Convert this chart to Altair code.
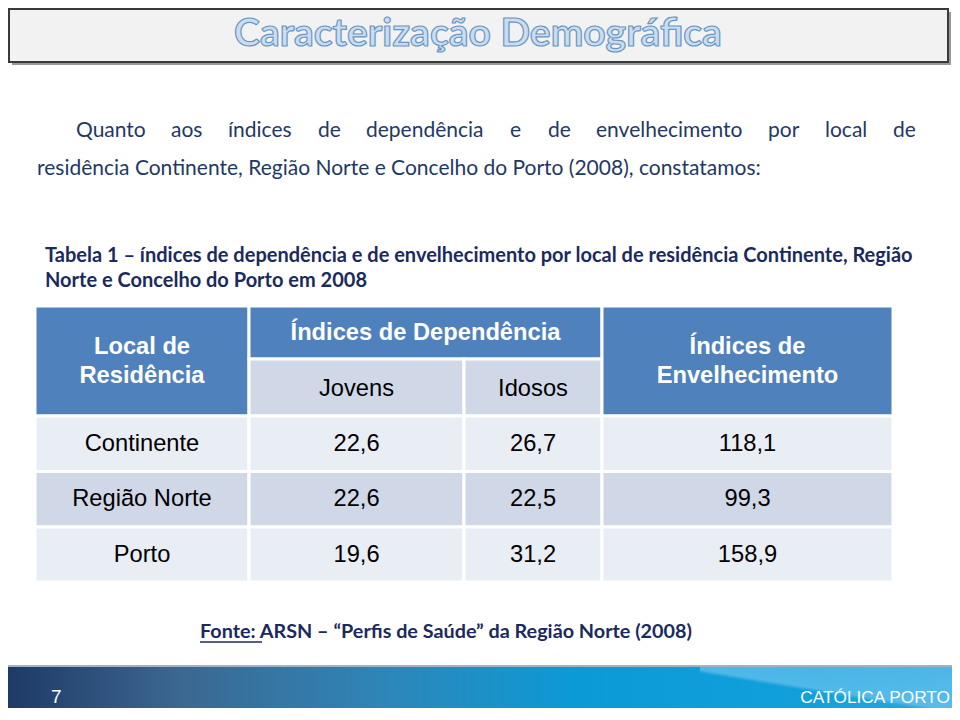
import altair as alt
import pandas as pd

# ---- table values ----
locais = ["Continente", "Região Norte", "Porto"]
jovens = [22.6, 22.6, 19.6]
idosos = [26.7, 22.5, 31.2]
envelhecimento = [118.1, 99.3, 158.9]

titulo = "Caracterização Demográfica"
paragrafo_l1 = ["Quanto", "aos", "índices", "de", "dependência", "e", "de",
                "envelhecimento", "por", "local", "de"]
paragrafo_l2 = "residência Continente, Região Norte e Concelho do Porto (2008), constatamos:"
legenda_l1 = "Tabela 1 – índices de dependência e de envelhecimento por local de residência Continente, Região"
legenda_l2 = "Norte e Concelho do Porto em 2008"
fonte_a = "Fonte: "
fonte_b = "ARSN – “Perfis de Saúde” da Região Norte (2008)"
pagina = "7"
marca = "CATÓLICA PORTO"

# ---- layout (page pixel coordinates) ----
W, H = 944, 700
X0, Y0 = 8, 8
XS = alt.Scale(domain=[X0, X0 + W], nice=False, zero=False)
YS = alt.Scale(domain=[Y0, Y0 + H], nice=False, zero=False, reverse=True)

word_x = [76, 171, 228, 318, 366, 510, 548, 596, 768, 825, 893]
col_edges = [35, 249, 464, 602, 893]
head_edges = [306, 359, 416]
row_edges = [416, 471.5, 527, 582]

BLUE = "#4F81BD"
LIGHT1 = "#E9EDF4"
LIGHT2 = "#D0D8E8"
NAVY = "#1F3864"
NAVY2 = "#1B2A5E"


def enc_rect():
    return dict(
        x=alt.X("x:Q", scale=XS, axis=None),
        x2="x2:Q",
        y=alt.Y("y:Q", scale=YS, axis=None),
        y2="y2:Q",
    )


def enc_pt():
    return dict(
        x=alt.X("x:Q", scale=XS, axis=None),
        y=alt.Y("y:Q", scale=YS, axis=None),
        text="t:N",
    )


fmt = lambda v: f"{v:.1f}".replace(".", ",")

# title box
box = pd.DataFrame({"x": [X0 + 1], "x2": [X0 + W - 4], "y": [Y0 + 1], "y2": [62]})
shadow = pd.DataFrame({"x": [X0 + 4], "x2": [X0 + W - 1], "y": [Y0 + 4], "y2": [65]})
shadow_l = alt.Chart(shadow).mark_rect(color="#7F7F7F", opacity=0.8).encode(**enc_rect())
box_l = alt.Chart(box).mark_rect(color="#F2F2F2", stroke="#3A3A3A", strokeWidth=2).encode(**enc_rect())
title_l = alt.Chart(pd.DataFrame({"x": [478], "y": [34], "t": [titulo]})).mark_text(
    font="Lato", fontWeight="bold", fontSize=39, color="#CADDF0", stroke="#6A96C2",
    strokeWidth=1.2, align="center", baseline="middle").encode(**enc_pt())

# paragraph
p1 = pd.DataFrame({"x": word_x, "y": [131] * len(word_x), "t": paragrafo_l1})
p2 = pd.DataFrame({"x": [37], "y": [169], "t": [paragrafo_l2]})
para_l = alt.Chart(pd.concat([p1, p2])).mark_text(
    font="Lato", fontSize=21, color=NAVY, align="left", baseline="middle").encode(**enc_pt())

# caption
cap = pd.DataFrame({"x": [45, 45], "y": [256, 281], "t": [legenda_l1, legenda_l2]})
cap_l = alt.Chart(cap).mark_text(
    font="Lato", fontWeight="bold", fontSize=20, color=NAVY2, align="left",
    baseline="middle").encode(**enc_pt())

# table cells
cells = []
cells.append((col_edges[0], col_edges[1], head_edges[0], head_edges[2], BLUE))
cells.append((col_edges[1], col_edges[3], head_edges[0], head_edges[1], BLUE))
cells.append((col_edges[1], col_edges[2], head_edges[1], head_edges[2], LIGHT2))
cells.append((col_edges[2], col_edges[3], head_edges[1], head_edges[2], LIGHT2))
cells.append((col_edges[3], col_edges[4], head_edges[0], head_edges[2], BLUE))
row_fill = [LIGHT1, LIGHT2, LIGHT1]
for i in range(len(locais)):
    for j in range(4):
        cells.append((col_edges[j], col_edges[j + 1], row_edges[i], row_edges[i + 1], row_fill[i]))
cells_df = pd.DataFrame(cells, columns=["x", "x2", "y", "y2", "fill"])
cells_l = alt.Chart(cells_df).mark_rect(stroke="white", strokeWidth=3).encode(
    color=alt.Color("fill:N", scale=None), **enc_rect())

cx = [(col_edges[j] + col_edges[j + 1]) / 2 for j in range(4)]
head_txt = pd.DataFrame({
    "x": [cx[0], cx[0], (col_edges[1] + col_edges[3]) / 2, cx[3], cx[3]],
    "y": [347, 376, 333, 347, 376],
    "t": ["Local de", "Residência", "Índices de Dependência", "Índices de", "Envelhecimento"],
})
head_l = alt.Chart(head_txt).mark_text(
    font="Liberation Sans", fontWeight="bold", fontSize=23.7, color="white",
    align="center", baseline="middle").encode(**enc_pt())

body = [{"x": cx[1], "y": 389, "t": "Jovens"}, {"x": cx[2], "y": 389, "t": "Idosos"}]
for i in range(len(locais)):
    yc = (row_edges[i] + row_edges[i + 1]) / 2
    vals = [locais[i], fmt(jovens[i]), fmt(idosos[i]), fmt(envelhecimento[i])]
    for j in range(4):
        body.append({"x": cx[j], "y": yc, "t": vals[j]})
body_l = alt.Chart(pd.DataFrame(body)).mark_text(
    font="Liberation Sans", fontSize=23.7, color="black", align="center",
    baseline="middle").encode(**enc_pt())

# source
src = pd.DataFrame({"x": [200], "y": [632], "t": [fonte_a + fonte_b]})
src_l = alt.Chart(src).mark_text(
    font="Lato", fontWeight="bold", fontSize=19.8, color=NAVY2, align="left",
    baseline="middle").encode(**enc_pt())
und = pd.DataFrame({"x": [200], "x2": [262], "y": [642]})
und_l = alt.Chart(und).mark_rule(color=NAVY2, strokeWidth=1.3).encode(
    x=alt.X("x:Q", scale=XS, axis=None), x2="x2:Q", y=alt.Y("y:Q", scale=YS, axis=None))

# footer band
band = pd.DataFrame({"x": [X0], "x2": [X0 + W], "y": [667], "y2": [Y0 + H]})
grad = alt.Gradient(
    gradient="linear",
    stops=[
        alt.GradientStop(color="#1E3A66", offset=0),
        alt.GradientStop(color="#3C6791", offset=0.18),
        alt.GradientStop(color="#2E86B8", offset=0.4),
        alt.GradientStop(color="#0C9AD6", offset=0.6),
        alt.GradientStop(color="#12A0DC", offset=0.85),
        alt.GradientStop(color="#2AA8E0", offset=1),
    ],
    x1=0, x2=1, y1=0, y2=0,
)
band_l = alt.Chart(band).mark_rect(color=grad).encode(**enc_rect())
swoosh = pd.DataFrame({"x": [700], "x2": [X0 + W], "y": [667], "y2": [Y0 + H]})
grad2 = alt.Gradient(
    gradient="linear",
    stops=[
        alt.GradientStop(color="rgba(120,200,240,0)", offset=0),
        alt.GradientStop(color="rgba(120,200,240,0)", offset=0.42),
        alt.GradientStop(color="rgba(130,205,242,0.55)", offset=0.47),
        alt.GradientStop(color="rgba(120,200,240,0.45)", offset=1),
    ],
    x1=0, x2=1, y1=1, y2=0,
)
swoosh_l = alt.Chart(swoosh).mark_rect(color=grad2).encode(**enc_rect())
line = pd.DataFrame({"x": [X0], "x2": [X0 + W], "y": [665], "y2": [668]})
line_l = alt.Chart(line).mark_rect(color="#9FB3C6").encode(**enc_rect())
foot = pd.DataFrame({"x": [51], "y": [697], "t": [pagina]})
foot_l = alt.Chart(foot).mark_text(
    font="Liberation Sans", fontSize=19, color="white", align="left",
    baseline="middle").encode(**enc_pt())
brand = pd.DataFrame({"x": [950], "y": [698], "t": [marca]})
brand_l = alt.Chart(brand).mark_text(
    font="Liberation Sans", fontSize=17.3, color="white", align="right",
    baseline="middle").encode(**enc_pt())

chart = alt.layer(
    shadow_l, box_l, title_l, para_l, cap_l, cells_l, head_l, body_l,
    src_l, und_l, line_l, band_l, swoosh_l, foot_l, brand_l,
).properties(
    width=W, height=H, padding=0,
    autosize=alt.AutoSizeParams(type="none"),
).configure_view(stroke=None)

chart.save("out.html", embed_options={"renderer": "svg", "actions": False})
